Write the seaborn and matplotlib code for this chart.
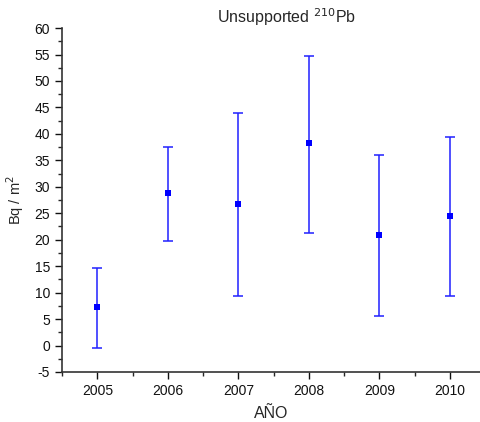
import numpy as np
import pandas as pd
import matplotlib
matplotlib.use('Agg')
import matplotlib.pyplot as plt
import seaborn as sns
from matplotlib.ticker import MultipleLocator

# Data
years = [2005, 2006, 2007, 2008, 2009, 2010]
values = [7.2, 28.8, 26.8, 38.2, 20.9, 24.5]
err_low = [-0.5, 19.7, 9.4, 21.3, 5.5, 9.3]
err_high = [14.7, 37.5, 44.0, 54.7, 36.1, 39.5]

df = pd.DataFrame({'year': years, 'bq': values})

sns.set_style('ticks')
plt.rcParams['font.family'] = ['Liberation Sans', 'DejaVu Sans']
plt.rcParams['axes.unicode_minus'] = False

fig = plt.figure(figsize=(4.81, 4.22), dpi=100)
ax = fig.add_axes([0.129, 0.1185, 0.871, 0.815])

yerr = [np.array(values) - np.array(err_low), np.array(err_high) - np.array(values)]
ax.errorbar(years, values, yerr=yerr, fmt='none', ecolor='#2020ff',
            elinewidth=1.1, capsize=3.5, capthick=1.1, zorder=2)
sns.scatterplot(data=df, x='year', y='bq', marker='s', color='#0000ff',
                s=22, edgecolor='#0000ff', linewidth=0, ax=ax, zorder=3)

ax.set_xlim(2004.5, 2010.44)
ax.set_ylim(-5, 60)
ax.set_xticks(years)
ax.xaxis.set_minor_locator(MultipleLocator(0.5))
ax.yaxis.set_major_locator(MultipleLocator(5))
ax.yaxis.set_minor_locator(MultipleLocator(2.5))
ax.tick_params(axis='both', which='major', direction='out', length=5, width=1,
               labelsize=10, colors='#111111')
ax.tick_params(axis='both', which='minor', direction='out', length=3, width=1)

for s in ['top', 'right']:
    ax.spines[s].set_visible(False)
for s in ['left', 'bottom']:
    ax.spines[s].set_linewidth(1.2)
    ax.spines[s].set_color('#333333')

ax.set_xlabel('AÑO', fontsize=11.5, labelpad=6)
ax.set_ylabel('Bq / m$^2$', fontsize=10.5, labelpad=6)
ax.set_title('Unsupported $^{210}$Pb', fontsize=11.5, x=0.535, pad=1)

fig.savefig('out.png', dpi=100)
